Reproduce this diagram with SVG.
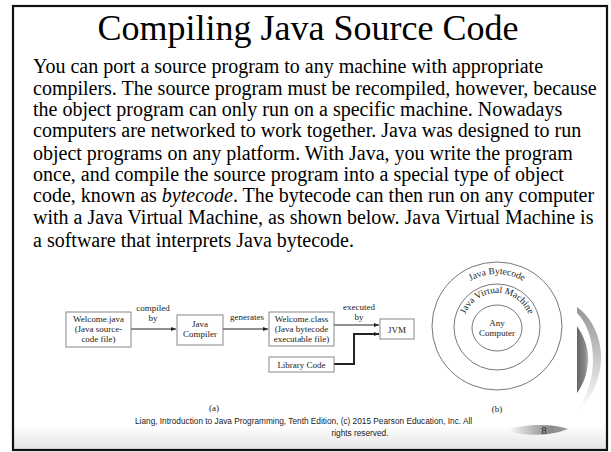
<svg xmlns="http://www.w3.org/2000/svg" width="611" height="452" viewBox="0 0 611 452">
<style>
.title{font-family:"Liberation Serif","Times New Roman",serif;font-size:36px;fill:#000}
.body{font-family:"Liberation Serif","Times New Roman",serif;font-size:20px;fill:#000}
.dg{font-family:"Liberation Serif","Times New Roman",serif;font-size:9px;fill:#222;text-anchor:middle}
.ring{font-family:"Liberation Serif","Times New Roman",serif;font-size:9.5px;fill:#222}
.box{fill:#fff;stroke:#7a7a7a;stroke-width:0.9}
.circ{fill:none;stroke:#555;stroke-width:0.8}
.ln{fill:none;stroke:#222;stroke-width:1.1}
.thk{fill:none;stroke:#222;stroke-width:2}
.foot{font-family:"Liberation Sans",Arial,sans-serif;font-size:8.27px;fill:#222}
</style>
<defs>
<marker id="ah" viewBox="0 0 10 10" refX="10" refY="5" markerWidth="6" markerHeight="5" markerUnits="userSpaceOnUse" orient="auto">
<path d="M0,1 L10,5 L0,9 z" fill="#222"/>
</marker>
<linearGradient id="footg" x1="0" y1="0" x2="0" y2="1">
<stop offset="0" stop-color="#ffffff"/>
<stop offset="1" stop-color="#e2e2e2"/>
</linearGradient>
<linearGradient id="bandg" x1="0" y1="0" x2="0" y2="1">
<stop offset="0" stop-color="#959595"/>
<stop offset="0.5" stop-color="#cacaca"/>
<stop offset="1" stop-color="#ffffff"/>
</linearGradient>
<linearGradient id="innerg" x1="0" y1="0" x2="1" y2="0">
<stop offset="0" stop-color="#666"/>
<stop offset="0.7" stop-color="#888"/>
<stop offset="1" stop-color="#b5b5b5"/>
</linearGradient>
<linearGradient id="swg" x1="0" y1="0" x2="1" y2="0">
<stop offset="0" stop-color="#ffffff"/>
<stop offset="0.7" stop-color="#8a8a8a"/>
<stop offset="1" stop-color="#a0a0a0"/>
</linearGradient>
<path id="arcOuter" d="M444,327 A53,53 0 0 1 550,327"/>
<path id="arcMid" d="M463,327 A34,34 0 0 1 531,327"/>
</defs>

<rect x="0" y="0" width="611" height="452" fill="#fff"/>
<rect x="13" y="426" width="594" height="24" fill="url(#footg)"/>
<rect x="13" y="6" width="594" height="444" fill="none" stroke="#111" stroke-width="2.2"/>

<g id="title"><text class="title" x="308" y="40" text-anchor="middle">Compiling Java Source Code</text></g>

<g id="bodytext">
<text class="body" x="33" y="73">You can port a source program to any machine with appropriate</text>
<text class="body" x="33" y="95">compilers. The source program must be recompiled, however, because</text>
<text class="body" x="33" y="116">the object program can only run on a specific machine. Nowadays</text>
<text class="body" x="33" y="137">computers are networked to work together. Java was designed to run</text>
<text class="body" x="33" y="160">object programs on any platform. With Java, you write the program</text>
<text class="body" x="33" y="181">once, and compile the source program into a special type of object</text>
<text class="body" x="33" y="202">code, known as <tspan font-style="italic">bytecode</tspan>. The bytecode can then run on any computer</text>
<text class="body" x="33" y="224">with a Java Virtual Machine, as shown below. Java Virtual Machine is</text>
<text class="body" x="33" y="247">a software that interprets Java bytecode.</text>
</g>

<g id="connectors">
<line class="ln" x1="131" y1="329" x2="176" y2="329" marker-end="url(#ah)"/>
<line class="ln" x1="223" y1="329" x2="268" y2="329" marker-end="url(#ah)"/>
<line class="ln" x1="334" y1="325" x2="379" y2="325" stroke-width="1.5" marker-end="url(#ah)"/>
<polyline class="thk" points="334,364 354,364 354,334 379,334" marker-end="url(#ah)"/>
<text class="dg" x="153" y="311">compiled</text>
<text class="dg" x="153" y="321">by</text>
<text class="dg" x="247" y="320">generates</text>
<text class="dg" x="359" y="310">executed</text>
<text class="dg" x="359" y="320">by</text>
</g>

<g id="welcome-java">
<rect class="box" x="66" y="312" width="65" height="35"/>
<text class="dg" x="98.5" y="322">Welcome.java</text>
<text class="dg" x="98.5" y="332">(Java source-</text>
<text class="dg" x="98.5" y="342">code file)</text>
</g>
<g id="java-compiler">
<rect class="box" x="177" y="315" width="46" height="30"/>
<text class="dg" x="200" y="327">Java</text>
<text class="dg" x="200" y="337">Compiler</text>
</g>
<g id="welcome-class">
<rect class="box" x="269" y="312" width="65" height="34"/>
<text class="dg" x="301.5" y="322">Welcome.class</text>
<text class="dg" x="301.5" y="332">(Java bytecode</text>
<text class="dg" x="301.5" y="342">executable file)</text>
</g>
<g id="library-code">
<rect class="box" x="269" y="357" width="65" height="15"/>
<text class="dg" x="301.5" y="367.5">Library Code</text>
</g>
<g id="jvm">
<rect class="box" x="380" y="319" width="34" height="20"/>
<text class="dg" x="397" y="332.5">JVM</text>
</g>
<g id="label-a"><text class="dg" x="214" y="411">(a)</text></g>

<g id="rings">
<ellipse class="circ" cx="497" cy="326" rx="65" ry="64"/>
<circle class="circ" cx="497" cy="327" r="43"/>
<ellipse class="circ" cx="497" cy="328" rx="25" ry="23"/>
<text class="ring"><textPath href="#arcOuter" startOffset="50%" text-anchor="middle">Java Bytecode</textPath></text>
<text class="ring"><textPath href="#arcMid" startOffset="50%" text-anchor="middle">Java Virtual Machine</textPath></text>
<text class="dg" x="497" y="326">Any</text>
<text class="dg" x="497" y="336">Computer</text>
<text class="dg" x="497" y="412">(b)</text>
</g>

<g id="decor">
<path d="M577,307 C592,318 602,338 601,360 C600,383 590,400 577,411 C586,398 593,380 593,360 C593,338 586,322 577,313 Z" fill="url(#bandg)"/>
<path d="M577,326 C585,338 589,350 588,362 C587,375 583,385 577,393 Z" fill="url(#innerg)"/>
<path d="M507,430 C522,424 552,423 568,429 C552,436 522,437 507,430 Z" fill="url(#swg)"/>
</g>

<g id="footer">
<text class="foot" x="135" y="424">Liang, Introduction to Java Programming, Tenth Edition, (c) 2015 Pearson Education, Inc. All</text>
<text class="foot" x="360" y="436" text-anchor="middle">rights reserved.</text>
<text x="544" y="434" font-family="Liberation Serif,serif" font-size="11" fill="#222" text-anchor="middle">8</text>
</g>
</svg>
